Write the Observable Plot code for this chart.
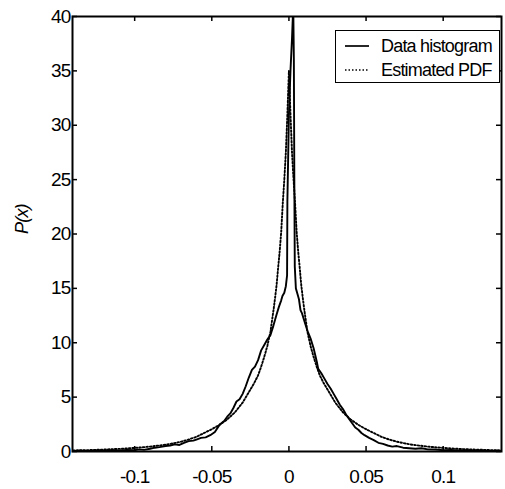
<!DOCTYPE html>
<html>
<head>
<meta charset="utf-8">
<script src="https://cdn.jsdelivr.net/npm/d3@7"></script>
<script src="https://cdn.jsdelivr.net/npm/@observablehq/plot@0.6"></script>
<style>
  html, body { margin: 0; padding: 0; background: #fff; }
  #wrap { position: relative; width: 505px; height: 489px; }
  #legend {
    position: absolute; left: 335px; top: 30px; width: 165px; height: 53px;
    border: 1.5px solid #000; background: #fff; box-sizing: border-box;
    font-family: "Liberation Sans Narrow", "Arial Narrow", "Liberation Sans", Arial, sans-serif;
    font-size: 18px; color: #000;
  }
  .row { position: absolute; left: 0; height: 22px; display: flex; align-items: center; }
  .row svg { margin-left: 9px; margin-right: 12px; }
  .row span { letter-spacing: -0.8px; white-space: nowrap; }
</style>
</head>
<body>
<div id="wrap"></div>
<script>
// ---- data ----
const xTicks = [-0.1, -0.05, 0, 0.05, 0.1];
const xTickLabels = ["-0.1", "-0.05", "0", "0.05", "0.1"];
const yTicks = [0, 5, 10, 15, 20, 25, 30, 35, 40];
const seriesNames = ["Data histogram", "Estimated PDF"];

const histX = [-0.140, -0.135, -0.130, -0.125, -0.120, -0.115, -0.110, -0.105, -0.100, -0.097,
  -0.094, -0.090, -0.087, -0.084, -0.080, -0.077, -0.074, -0.071, -0.068, -0.065,
  -0.062, -0.060, -0.057, -0.054, -0.051, -0.048, -0.045, -0.042, -0.040, -0.038,
  -0.036, -0.034, -0.032, -0.030, -0.028, -0.026, -0.024, -0.022, -0.020, -0.018,
  -0.016, -0.014, -0.012, -0.010, -0.008, -0.0065, -0.005, -0.0042, -0.003, -0.002,
  -0.0012, -0.001, -0.0005, 0, 0.001, 0.002, 0.0028, 0.0032, 0.0035, 0.0038,
  0.0045, 0.0055, 0.0065, 0.0075, 0.0085, 0.010, 0.012, 0.014, 0.016, 0.018,
  0.019, 0.021, 0.023, 0.025, 0.027, 0.029, 0.031, 0.033, 0.035, 0.037,
  0.039, 0.041, 0.043, 0.045, 0.047, 0.049, 0.052, 0.055, 0.058, 0.061,
  0.064, 0.067, 0.070, 0.074, 0.078, 0.082, 0.086, 0.090, 0.095, 0.100,
  0.105, 0.110, 0.115, 0.120, 0.125, 0.130, 0.135, 0.138];
const histY = [0.05, 0.08, 0.06, 0.10, 0.08, 0.12, 0.10, 0.15, 0.12, 0.20,
  0.15, 0.25, 0.35, 0.40, 0.50, 0.55, 0.65, 0.60, 0.80, 0.95,
  1.00, 1.10, 1.25, 1.30, 1.50, 1.80, 2.45, 2.80, 3.20, 3.50,
  4.00, 4.60, 4.80, 5.30, 6.00, 6.80, 7.50, 7.80, 8.40, 9.30,
  9.80, 10.3, 10.7, 11.6, 12.6, 13.3, 13.9, 14.3, 14.6, 15.2,
  16.2, 23.0, 27.0, 31.0, 35.0, 38.0, 41.0, 36.0, 25.0, 17.0,
  15.0, 14.5, 14.0, 13.0, 12.7, 12.0, 11.1, 10.4, 9.5, 8.3,
  7.6, 7.2, 6.7, 6.2, 5.8, 5.3, 4.8, 4.3, 3.9, 3.4,
  3.0, 2.6, 2.2, 2.0, 1.7, 1.5, 1.25, 1.05, 0.80, 0.70,
  0.55, 0.45, 0.50, 0.35, 0.30, 0.25, 0.30, 0.20, 0.18, 0.12,
  0.15, 0.10, 0.12, 0.08, 0.10, 0.06, 0.08, 0.05];

const pdfX = [-0.140, -0.130, -0.120, -0.110, -0.100, -0.090, -0.080, -0.075, -0.070, -0.065,
  -0.060, -0.055, -0.050, -0.045, -0.040, -0.035, -0.030, -0.025, -0.0225, -0.020,
  -0.018, -0.016, -0.014, -0.012, -0.010, -0.009, -0.008, -0.007, -0.006, -0.005,
  -0.004, -0.003, -0.002, -0.001, 0, 0.001, 0.002, 0.003, 0.004, 0.005,
  0.006, 0.007, 0.008, 0.009, 0.010, 0.012, 0.014, 0.016, 0.018, 0.020,
  0.0225, 0.025, 0.030, 0.035, 0.040, 0.045, 0.050, 0.055, 0.060, 0.065,
  0.070, 0.075, 0.080, 0.090, 0.100, 0.110, 0.120, 0.130, 0.138];
const pdfY = [0.10, 0.13, 0.18, 0.24, 0.33, 0.45, 0.62, 0.75, 0.90, 1.10,
  1.35, 1.70, 2.05, 2.45, 2.95, 3.60, 4.50, 5.70, 6.30, 7.00,
  7.80, 8.70, 9.70, 11.0, 13.0, 14.1, 15.3, 16.9, 18.4, 20.2,
  22.8, 25.0, 27.5, 31.0, 35.0, 31.0, 27.5, 25.0, 22.8, 20.2,
  18.4, 16.9, 15.3, 14.1, 13.0, 11.0, 9.7, 8.7, 7.8, 7.0,
  6.3, 5.7, 4.5, 3.6, 2.95, 2.45, 2.05, 1.70, 1.35, 1.10,
  0.90, 0.75, 0.62, 0.45, 0.33, 0.24, 0.18, 0.13, 0.10];

// ---- layout ----
const W = 505, H = 489, mL = 72, mR = 4, mT = 16, mB = 38;
const fw = W - mL - mR, fh = H - mT - mB;
const font = '"Liberation Sans Narrow", "Arial Narrow", "Liberation Sans", Arial, sans-serif';

const hist = histX.map((x, i) => ({x, y: histY[i]}));
const pdf = pdfX.map((x, i) => ({x, y: pdfY[i]}));

const chart = Plot.plot({
  width: W, height: H,
  marginLeft: mL, marginRight: mR, marginTop: mT, marginBottom: mB,
  style: {fontFamily: font, fontSize: "19px", background: "#fff", color: "#000", letterSpacing: "-0.8px"},
  x: {domain: [-0.1403, 0.1378], label: null},
  y: {domain: [0, 40], label: null},
  marks: [
    Plot.line(pdf, {x: "x", y: "y", stroke: "#000", strokeWidth: 1.9, strokeDasharray: "1.5,2", clip: true}),
    Plot.line(hist, {x: "x", y: "y", stroke: "#000", strokeWidth: 1.9, clip: true}),
    Plot.tickX(xTicks, {x: d => d, insetTop: fh - 5, stroke: "#000", strokeWidth: 1.5}),
    Plot.tickX(xTicks, {x: d => d, insetBottom: fh - 5, stroke: "#000", strokeWidth: 1.5}),
    Plot.tickY(yTicks, {y: d => d, insetRight: fw - 5, stroke: "#000", strokeWidth: 1.5}),
    Plot.tickY(yTicks, {y: d => d, insetLeft: fw - 5, stroke: "#000", strokeWidth: 1.5}),
    Plot.frame({stroke: "#000", strokeWidth: 2}),
    Plot.axisX(xTicks, {tickSize: 0, tickPadding: 18, label: null,
      tickFormat: (d) => xTickLabels[xTicks.indexOf(d)], fontSize: 19}),
    Plot.axisY(yTicks, {tickSize: 0, tickPadding: 2, label: null, fontSize: 19}),
    Plot.text(["P(x)"], {frameAnchor: "left", dx: -50, rotate: -90, fontStyle: "italic", fontSize: 18})
  ]
});
const wrap = document.getElementById("wrap");
wrap.appendChild(chart);

// legend
const leg = document.createElement("div");
leg.id = "legend";
const dashes = [null, "1.5,2"];
seriesNames.forEach((name, i) => {
  const row = document.createElement("div");
  row.className = "row";
  row.style.top = (4 + i * 24) + "px";
  row.innerHTML = `<svg width="24" height="6"><line x1="0" y1="3" x2="24" y2="3" stroke="#000" stroke-width="1.7" ${dashes[i] ? `stroke-dasharray="${dashes[i]}"` : ""}/></svg><span>${name}</span>`;
  leg.appendChild(row);
});
wrap.appendChild(leg);
</script>
</body>
</html>
